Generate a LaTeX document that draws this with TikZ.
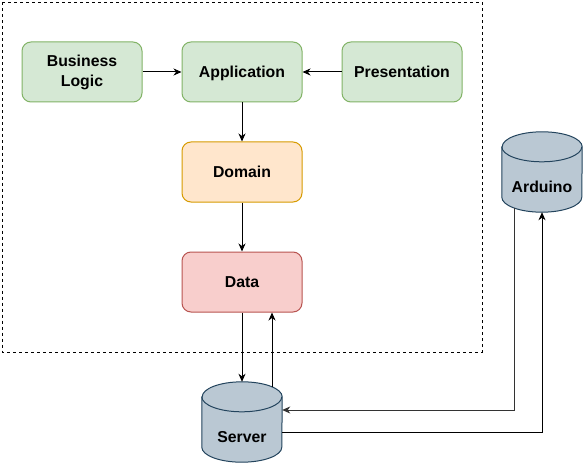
\documentclass[tikz,border=0pt]{standalone}
\usepackage{fontspec}
\setmainfont{Liberation Sans}
\usetikzlibrary{arrows.meta,calc}
\definecolor{gfill}{HTML}{D5E8D4}
\definecolor{gdraw}{HTML}{82B366}
\definecolor{ofill}{HTML}{FFE6CC}
\definecolor{odraw}{HTML}{D79B00}
\definecolor{rfill}{HTML}{F8CECC}
\definecolor{rdraw}{HTML}{B85450}
\definecolor{cfill}{HTML}{BAC8D3}
\definecolor{cdraw}{HTML}{23445D}
\definecolor{darkline}{HTML}{333333}
\tikzset{
  labelfont/.style={font=\fontsize{15.8}{20}\selectfont\bfseries},
  layerbox/.style={rectangle, rounded corners=9pt, minimum width=120pt, minimum height=60pt, inner sep=0pt, line width=1pt, align=center, labelfont, text height=11.4pt, text depth=0pt},
  greenbox/.style={layerbox, draw=gdraw, fill=gfill},
  orangebox/.style={layerbox, draw=odraw, fill=ofill},
  redbox/.style={layerbox, draw=rdraw, fill=rfill},
  dbholder/.style={rectangle, minimum width=80pt, minimum height=80pt, inner sep=0pt},
  dblabel/.style={labelfont, inner sep=0pt, text height=11.4pt, text depth=0pt},
  conn/.style={line width=1pt, -{Stealth[length=8pt,width=7pt,inset=2.5pt]}},
  frame/.style={line width=0.8pt, dash pattern=on 3pt off 3pt}
}
\newcommand{\drawdb}[2]{%
  \path[fill=cfill, draw=cdraw, line width=1pt]
    ($(#1.north west)+(0,15)$) -- ($(#1.south west)+(0,-15)$)
    arc[start angle=180, end angle=0, x radius=40, y radius=15]
    -- ($(#1.north east)+(0,15)$)
    arc[start angle=0, end angle=-180, x radius=40, y radius=15] -- cycle;
  \draw[cdraw, line width=1pt] ($(#1.north west)+(0,15)$)
    arc[start angle=180, end angle=0, x radius=40, y radius=15];
  \node[dblabel] (#1label) at ($(#1.center)+(0,14.5)$) {#2};
}
\begin{document}
\begin{tikzpicture}[x=1pt,y=-1pt]
\useasboundingbox (0,0) rectangle (585,465);
\fill[white] (0,0) rectangle (585,465);
\draw[frame] (2.5,2.5) rectangle (482,352);

\node[greenbox, text height=, text depth=] (bl) at (82,72) {Business\\Logic};
\node[greenbox] (app) at (242,72) {Application};
\node[greenbox] (pres) at (402,72) {Presentation};
\node[orangebox] (dom) at (242,172) {Domain};
\node[redbox] (data) at (242,282) {Data};

\node[dbholder] (server) at (242,422) {};
\node[dbholder] (arduino) at (542,172) {};
\drawdb{server}{Server}
\drawdb{arduino}{Arduino}

\coordinate (srvTopR) at (272,387);
\coordinate (ardBotL) at (514,207.7);
\coordinate (bendA) at (514,410);
\coordinate (bendB) at (542,432);

\draw[conn] (bl.east) -- (app.west);
\draw[conn] (pres.west) -- (app.east);
\draw[conn] (app.south) -- (dom.north);
\draw[conn] (dom.south) -- (data.north);
\draw[conn] (data.south) -- (server.north);
\draw[conn] (srvTopR) -- (srvTopR |- data.south);
\draw[conn, darkline] (ardBotL) -- (bendA) -- (bendA -| server.east);
\draw[conn] (bendB -| server.east) -- (bendB) -- (arduino.south);
\end{tikzpicture}
\end{document}
